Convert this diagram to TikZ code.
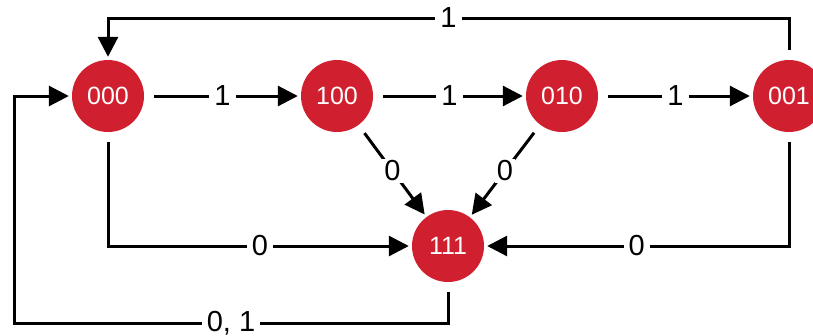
\documentclass[tikz,border=0pt]{standalone}
\usepackage{fontspec}
\setmainfont{Liberation Sans}
\usetikzlibrary{arrows.meta}
\definecolor{statered}{RGB}{208,32,48}
\begin{document}
\begin{tikzpicture}[x=1pt,y=-1pt,
  state/.style={circle,fill=statered,text=white,minimum size=72pt,inner sep=0pt,font=\fontsize{25}{25}\selectfont},
  arr/.style={line width=3pt,-{Triangle[length=20pt,width=20pt]},shorten <=10pt,shorten >=3pt},
  lbl/.style={fill=white,inner sep=5pt,font=\fontsize{29}{29}\selectfont}]
\useasboundingbox (0,0) rectangle (813,335);
\node[state] (s000) at (108,96) {000};
\node[state] (s100) at (337,96) {100};
\node[state] (s010) at (562,96) {010};
\node[state] (s001) at (789,96) {001};
\node[state] (s111) at (448,246) {111};
\coordinate (t1) at (789,18);
\coordinate (t0) at (108,18);
\coordinate (b1) at (448,323);
\coordinate (b0) at (14,323);
\coordinate (l0) at (14,96);
\coordinate (m0) at (108,246);
\coordinate (m1) at (789,246);
\draw[arr] (s000) -- node[lbl]{1} (s100);
\draw[arr] (s100) -- node[lbl]{1} (s010);
\draw[arr] (s010) -- node[lbl]{1} (s001);
\draw[arr] (s001.north) -- (t1) -- node[lbl]{1} (t0) -- (s000.north);
\draw[arr] (s111.south) -- (b1) -- node[lbl]{0, 1} (b0) -- (l0) -- (s000.west);
\draw[arr] (s000.south) -- (m0) -- node[lbl]{0} (s111.west);
\draw[arr] (s001.south) -- (m1) -- node[lbl]{0} (s111.east);
\draw[arr] (s100) -- node[lbl,inner sep=2pt]{0} (s111);
\draw[arr] (s010) -- node[lbl,inner sep=2pt]{0} (s111);
\end{tikzpicture}
\end{document}
